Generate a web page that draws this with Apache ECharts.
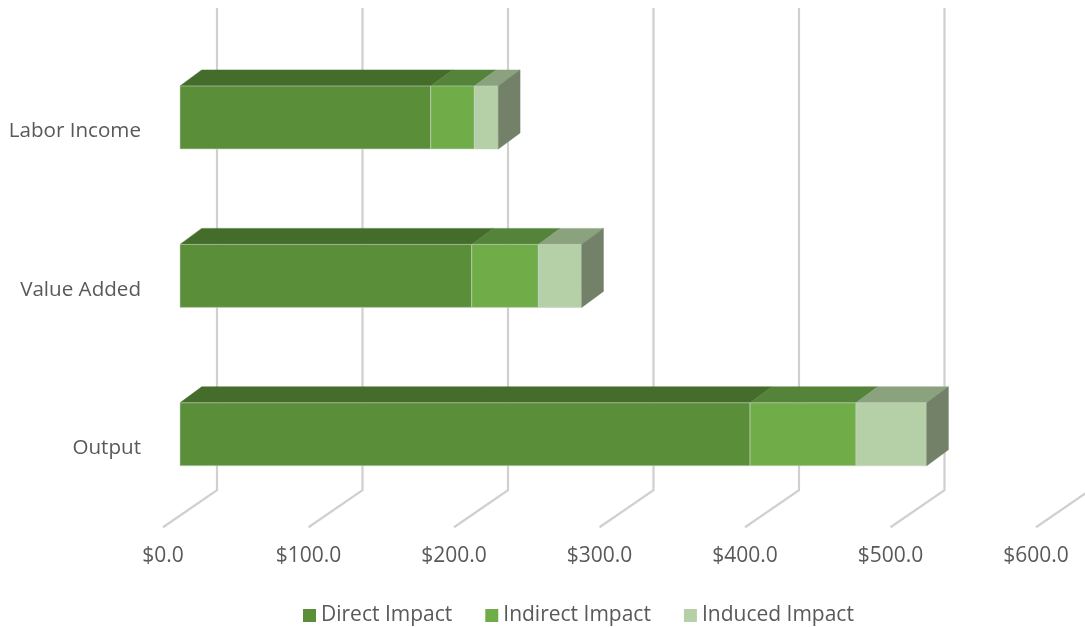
<!DOCTYPE html>
<html><head><meta charset="utf-8">
<script src="https://cdn.jsdelivr.net/npm/echarts@6/dist/echarts.min.js"></script>
<style>html,body{margin:0;padding:0;background:#fff}#c{width:1085px;height:627px}</style>
</head><body><div id="c"></div>
<script>
// Data (bottom to top on the category axis)
const categories = ['Output', 'Value Added', 'Labor Income'];
const directImpact = [391.8, 200.5, 172.3];
const indirectImpact = [72.8, 45.8, 30.0];
const inducedImpact = [48.6, 29.8, 16.5];
const xTicks = [0, 100, 200, 300, 400, 500, 600];
const seriesNames = ['Direct Impact', 'Indirect Impact', 'Induced Impact'];

// Styles
const FRONT = ['#5b8e39', '#70ac47', '#b5d0a7'];
const TOP = ['#446d2b', '#54833a', '#8aa27e'];
const SIDE = '#728168';
const DX = 21.7, DY = 16, BAR_H = 63, LIFT = 13.75;
const FONT = 'Open Sans';
const TXT = '#595959';

function stackRows(idx) {
  const arrs = [directImpact, indirectImpact, inducedImpact];
  return categories.map((c, i) => {
    let s = 0;
    for (let k = 0; k < idx; k++) s += arrs[k][i];
    return [i, s, s + arrs[idx][i]];
  });
}

function segRender(idx) {
  return function (params, api) {
    const cat = api.value(0), s = api.value(1), e = api.value(2);
    const p0 = api.coord([s, cat]), p1 = api.coord([e, cat]);
    const x0 = p0[0], x1 = p1[0];
    const cy = p0[1] - LIFT;
    const yT = cy - BAR_H / 2, yB = cy + BAR_H / 2;
    const children = [
      { type: 'polygon', shape: { points: [[x0, yT], [x0 + DX, yT - DY], [x1 + DX, yT - DY], [x1, yT]] },
        style: { fill: TOP[idx], stroke: TOP[idx], lineWidth: 0.5 } },
      { type: 'rect', shape: { x: x0, y: yT, width: x1 - x0, height: BAR_H },
        style: { fill: FRONT[idx], stroke: 'rgba(200,210,195,0.6)', lineWidth: 1 } }
    ];
    if (idx === 2) {
      children.push({ type: 'polygon', shape: { points: [[x1, yT], [x1 + DX, yT - DY], [x1 + DX, yB - DY], [x1, yB]] },
        style: { fill: SIDE, stroke: SIDE, lineWidth: 0.5 } });
    }
    return { type: 'group', children: children };
  };
}

function gridRender(params, api) {
  const x = api.coord([api.value(0), 0])[0];
  const cs = params.coordSys;
  const yFront = cs.y + cs.height;
  const yBack = yFront - 37;
  const yTop = cs.y - 44;
  return {
    type: 'polyline',
    shape: { points: [[x + 37, yTop], [x + 37, yBack], [x - 17, yFront]] },
    style: { stroke: '#d0d0d0', lineWidth: 2.2, fill: null }
  };
}

const chart = echarts.init(document.getElementById('c'));
const option = {
  animation: false,
  backgroundColor: '#fff',
  grid: { left: 180, right: 32, top: 52, bottom: 99.75 },
  xAxis: {
    type: 'value', min: 0, max: 600, interval: 100,
    axisLine: { show: false }, axisTick: { show: false }, splitLine: { show: false },
    axisLabel: { formatter: v => '$' + v.toFixed(1), color: TXT, fontFamily: FONT, fontSize: 21,
      margin: 18, padding: [0, 34, 0, 0] }
  },
  yAxis: {
    type: 'category', data: categories,
    axisLine: { show: false }, axisTick: { show: false }, splitLine: { show: false },
    axisLabel: { color: TXT, fontFamily: FONT, fontSize: 20.6, margin: 39 }
  },
  legend: {
    data: seriesNames, left: 298, top: 600, icon: 'rect', itemWidth: 13, itemHeight: 13,
    itemGap: 33, textStyle: { color: TXT, fontFamily: FONT, fontSize: 21 }
  },
  series: [
    { type: 'custom', name: 'grid', silent: true, z: 1, renderItem: gridRender,
      data: xTicks.map(v => [v]), encode: { x: 0 } },
  ].concat(seriesNames.map((n, i) => ({
    type: 'custom', name: n, z: 2 + i, renderItem: segRender(i),
    itemStyle: { color: FRONT[i] },
    data: stackRows(i), encode: { y: 0, x: [1, 2] }
  })))
};
chart.setOption(option);
</script>
</body></html>
